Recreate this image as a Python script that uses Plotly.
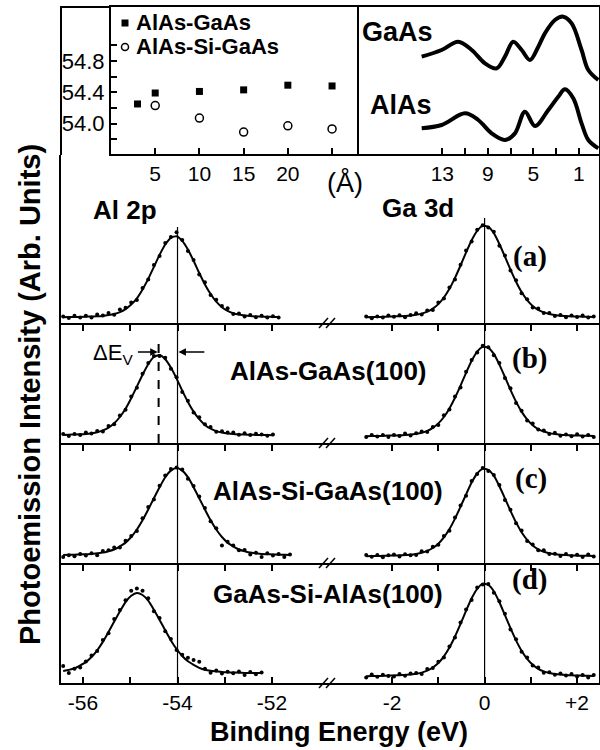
import plotly.graph_objects as go

# ---------------- data ----------------
# inset (top-left): Al 2p binding energy vs thickness
THICK_AG = [3, 5, 10, 15, 20, 25]
EDGE_AG = [54.25, 54.39, 54.41, 54.43, 54.49, 54.48]
THICK_ASG = [5, 10, 15, 20, 25]
EDGE_ASG = [54.23, 54.07, 53.89, 53.97, 53.93]

# inset (top-right): valence band spectra
GAAS_VB_E = [14.81, 13.06, 11.60, 10.42, 9.25, 8.23, 7.50, 6.77, 6.03, 5.30, 4.57, 3.99, 3.11, 2.38, 1.64, 0.77, 0.18, -0.70]
GAAS_VB_I = [8.0, 10.0, 12.5, 10.0, 6.0, 4.5, 8.0, 12.5, 10.0, 7.0, 11.0, 15.0, 19.0, 20.0, 18.0, 10.0, 4.0, 1.0]
ALAS_VB_E = [14.81, 13.06, 11.01, 9.84, 8.67, 7.50, 6.62, 5.74, 4.86, 3.69, 2.82, 2.23, 1.50, 0.77, 0.18, -0.70]
ALAS_VB_I = [7.5, 8.5, 12.0, 10.0, 6.0, 4.0, 6.0, 12.5, 8.2, 13.0, 17.0, 19.2, 16.5, 9.0, 4.0, 1.5]
VB_OFFSET_GAAS = 21.0

# core level energies
AL_E = [-56.42, -56.30, -56.18, -56.06, -55.94, -55.82, -55.70, -55.58, -55.46, -55.34,
        -55.22, -55.10, -54.98, -54.86, -54.74, -54.62, -54.50, -54.38, -54.26, -54.14,
        -54.02, -53.90, -53.78, -53.66, -53.54, -53.42, -53.30, -53.18, -53.06, -52.94,
        -52.82, -52.70, -52.58, -52.46, -52.34, -52.22, -52.10, -51.98, -51.86, -51.74, -51.62]
GA_E = [-2.56, -2.44, -2.32, -2.20, -2.08, -1.96, -1.84, -1.72, -1.60, -1.48, -1.36, -1.24,
        -1.12, -1.00, -0.88, -0.76, -0.64, -0.52, -0.40, -0.28, -0.16, -0.04, 0.08, 0.20,
        0.32, 0.44, 0.56, 0.68, 0.80, 0.92, 1.04, 1.16, 1.28, 1.40, 1.52, 1.64, 1.76, 1.88,
        2.00, 2.12, 2.24, 2.36]

AL_FIT_A = [5.8, 5.9, 6.1, 6.1, 6.3, 6.5, 6.7, 7.1, 7.9, 9.0, 10.9, 13.9, 18.4, 24.6, 33.5, 44.1, 56.1, 68.1, 78.5, 85.2,
            86.8, 82.1, 73.5, 62.2, 50.0, 38.6, 29.0, 21.4, 15.8, 12.1, 9.8, 8.4, 7.5, 6.9, 6.6, 6.4, 6.2, 6.1, 6.0]
AL_DOTS_A = [6.6, 4.9, 7.3, 5.5, 7.2, 5.4, 8.5, 7.5, 10.1, 8.2, 13.4, 15.2, 20.4, 23.1, 35.1, 43.4, 58.0, 66.9, 80.0, 86.1,
             90.8, 83.1, 72.1, 63.0, 48.4, 40.7, 28.1, 23.2, 16.9, 14.7, 9.1, 9.6, 6.6, 7.9, 5.8, 7.3, 5.6, 6.8, 5.5]
AL_FIT_B = [8.1, 8.3, 8.5, 8.7, 9.1, 9.8, 10.8, 12.6, 15.4, 19.8, 26.0, 34.2, 44.7, 56.5, 68.3, 78.8, 86.0, 87.9, 83.7,
            75.4, 64.4, 52.4, 41.1, 31.4, 23.8, 18.1, 14.3, 11.9, 10.4, 9.5, 8.9, 8.6, 8.4, 8.2, 8.1, 8.0, 7.9, 7.8]
AL_DOTS_B = [9.1, 7.1, 9.1, 7.9, 10.6, 9.4, 12.1, 11.6, 17.1, 18.7, 27.4, 33.3, 46.5, 55.2, 69.3, 80.0, 87.1, 87.1, 85.2,
             74.3, 65.7, 50.9, 42.3, 30.6, 25.7, 18.8, 15.9, 11.3, 11.8, 10.4, 10.4, 8.2, 9.7, 7.9, 9.2, 8.5, 7.3, 8.6]
AL_FIT_C = [8.1, 8.2, 8.3, 8.5, 8.8, 9.1, 9.7, 10.4, 11.8, 13.5, 16.7, 20.4, 26.0, 33.5, 42.7, 53.5, 64.8, 75.8, 85.8, 92.4,
            95.0, 92.4, 85.8, 75.8, 64.8, 53.5, 42.7, 33.5, 26.0, 20.4, 16.7, 13.5, 11.8, 10.4, 9.7, 9.1, 8.8, 8.5, 8.3, 8.2, 8.1]
AL_DOTS_C = [6.1, 7.7, 6.7, 8.9, 7.6, 9.8, 7.7, 12.0, 12.7, 15.4, 15.6, 22.2, 27.0, 32.1, 44.7, 55.9, 63.5, 77.2, 87.4, 93.9,
             95.6, 93.4, 84.3, 76.9, 66.4, 55.0, 41.8, 34.7, 17.5, 21.2, 17.6, 12.8, 13.0, 8.6, 10.3, 6.1, 9.7, 7.5, 9.1, 6.0, 8.5]
AL_FIT_D = [12.1, 13.1, 14.7, 17.6, 20.9, 26.0, 32.7, 41.1, 51.0, 61.4, 71.5, 80.9, 87.2, 90.0, 88.0, 82.3, 73.2, 63.1,
            52.7, 42.6, 34.0, 27.0, 21.7, 18.2, 15.2, 13.2, 12.2, 11.6, 11.0, 10.7, 10.5, 10.3, 10.1, 10.0, 10.0, 9.9]
AL_DOTS_D = [17.0, 10.1, 14.2, 15.4, 21.5, 27.5, 31.9, 42.9, 49.8, 63.9, 72.9, 82.8, 92.2, 94.5, 92.2, 84.8, 71.8, 64.9,
             51.7, 44.0, 33.1, 28.3, 25.2, 23.0, 21.2, 14.2, 10.2, 12.5, 9.5, 11.3, 9.7, 11.4, 7.9, 10.9, 8.8, 10.4]

GA_FIT_A = [5.8, 5.9, 6.0, 6.2, 6.4, 6.6, 6.8, 7.0, 7.4, 8.3, 9.4, 11.3, 14.4, 18.9, 25.5, 34.2, 45.1, 57.5, 70.6, 82.8, 92.2,
            97.1, 96.1, 89.9, 79.0, 66.3, 53.3, 41.2, 30.9, 22.9, 17.1, 13.1, 10.6, 9.0, 8.0, 7.3, 7.0, 6.7, 6.5, 6.3, 6.2, 6.0]
GA_DOTS_A = [6.6, 4.8, 6.5, 5.5, 7.6, 6.2, 7.7, 5.7, 8.0, 9.8, 8.6, 12.4, 13.0, 20.6, 24.6, 35.5, 43.5, 58.3, 72.5, 81.6, 93.2,
             97.8, 95.5, 91.3, 77.2, 67.5, 52.6, 42.8, 29.8, 23.8, 15.6, 14.4, 10.0, 10.0, 7.1, 8.0, 5.8, 7.5, 6.0, 7.4, 5.4, 6.6]
GA_FIT_B = [6.8, 6.9, 7.0, 7.2, 7.4, 7.5, 7.7, 8.0, 8.4, 9.2, 10.3, 12.2, 15.2, 19.6, 26.0, 34.6, 45.2, 57.4, 70.2, 82.2, 91.4,
            96.1, 95.2, 89.1, 78.4, 66.0, 53.2, 41.4, 31.4, 23.6, 17.8, 13.9, 11.5, 9.9, 8.9, 8.3, 7.9, 7.6, 7.5, 7.3, 7.2, 7.0]
GA_DOTS_B = [5.9, 8.1, 6.6, 8.0, 6.1, 8.0, 7.0, 9.4, 7.4, 9.8, 11.6, 11.0, 16.1, 18.0, 27.8, 33.6, 46.6, 55.5, 71.3, 83.1, 90.6,
             97.3, 95.7, 87.8, 80.0, 65.1, 54.7, 40.0, 32.2, 22.4, 19.4, 13.4, 12.6, 9.1, 10.2, 7.3, 8.5, 6.7, 8.7, 6.6, 8.1, 5.9]
GA_FIT_C = [6.8, 6.9, 7.0, 7.2, 7.3, 7.5, 7.7, 8.0, 8.3, 9.1, 10.2, 12.1, 15.0, 19.3, 25.6, 33.9, 44.4, 56.3, 68.7, 80.5, 89.5,
            94.1, 93.2, 87.3, 76.8, 64.7, 52.2, 40.6, 30.8, 23.2, 17.6, 13.7, 11.3, 9.8, 8.8, 8.2, 7.9, 7.6, 7.4, 7.2, 7.2, 7.0]
GA_DOTS_C = [8.1, 6.3, 7.9, 5.8, 7.7, 8.6, 6.5, 8.7, 7.8, 8.0, 11.8, 11.4, 16.2, 18.3, 27.1, 32.2, 45.4, 57.6, 67.2, 82.1, 88.9,
             95.0, 92.0, 88.1, 78.0, 63.1, 53.2, 39.8, 32.5, 21.9, 18.5, 12.7, 12.7, 9.1, 9.3, 6.9, 8.9, 7.0, 8.2, 6.0, 8.6, 6.6]
GA_FIT_D = [6.8, 6.9, 7.0, 7.2, 7.4, 7.6, 7.8, 8.1, 8.4, 9.3, 10.4, 12.4, 15.5, 20.0, 26.7, 35.5, 46.5, 59.1, 72.3, 84.7, 94.2,
            99.1, 98.1, 91.8, 80.8, 67.9, 54.8, 42.6, 32.2, 24.1, 18.2, 14.2, 11.6, 10.0, 9.0, 8.4, 8.0, 7.7, 7.5, 7.3, 7.2, 7.0]
GA_DOTS_D = [5.6, 8.4, 6.2, 8.2, 7.1, 6.6, 9.1, 7.2, 9.5, 10.1, 9.0, 14.0, 14.9, 21.2, 25.4, 36.4, 45.4, 60.6, 73.5, 83.0, 95.6,
             98.4, 99.1, 90.3, 81.7, 69.2, 53.6, 43.7, 31.3, 25.6, 17.6, 15.4, 10.2, 10.8, 8.3, 9.6, 7.5, 9.0, 6.5, 8.0, 5.6, 8.0]

AL_REF = -54.0        # reference Al 2p position (vertical line)
GA_REF = 0.0          # Ga 3d reference
AL_PEAK_B = -54.4     # Al 2p peak in (b)

AL_TICKS = [-56, -55, -54, -53, -52]
AL_TICKTEXT = ["-56", "", "-54", "", "-52"]
GA_TICKS = [-2, -1, 0, 1, 2]
GA_TICKTEXT = ["-2", "", "0", "", "+2"]

PANEL_LETTERS = ["(a)", "(b)", "(c)", "(d)"]
SAMPLE_LABELS = ["", "AlAs-GaAs(100)", "AlAs-Si-GaAs(100)", "GaAs-Si-AlAs(100)"]

# ---------------- layout helpers ----------------
W, H = 600, 750
def fx(p):
    return p / W
def fy(p):
    return 1 - p / H
def xn(i):
    return "x" if i == 1 else f"x{i}"
def yn(i):
    return "y" if i == 1 else f"y{i}"
def xk(i):
    return "xaxis" if i == 1 else f"xaxis{i}"
def yk(i):
    return "yaxis" if i == 1 else f"yaxis{i}"

SANS = "Liberation Sans, Arial, Helvetica, sans-serif"
SERIF = "Liberation Serif, Times New Roman, serif"
BLACK = "black"

fig = go.Figure()
layout = {}
shapes = []
annotations = []

X_L = [fx(61), fx(328)]
X_R = [fx(328), fx(599)]
AL_RANGE = [-56.466, -50.815]
GA_RANGE = [-3.386, 2.474]

PANEL_TOP = [155, 323, 443, 563]
PANEL_BOT = [323, 443, 563, 683]
REF_TOP_A = (96, 105)  # heights of reference lines in panel (a)

panels = [
    (AL_FIT_A, AL_DOTS_A, GA_FIT_A, GA_DOTS_A),
    (AL_FIT_B, AL_DOTS_B, GA_FIT_B, GA_DOTS_B),
    (AL_FIT_C, AL_DOTS_C, GA_FIT_C, GA_DOTS_C),
    (AL_FIT_D, AL_DOTS_D, GA_FIT_D, GA_DOTS_D),
]

for k, (alf, ald, gaf, gad) in enumerate(panels):
    li, ri = 2 * k + 1, 2 * k + 2
    top, bot = PANEL_TOP[k], PANEL_BOT[k]
    ymax = bot - top
    last = k == 3
    common_x = dict(showline=True, linewidth=2, linecolor=BLACK, showgrid=False, zeroline=False,
                    ticks="inside" if last else "outside", ticklen=6, tickwidth=1.5, tickcolor=BLACK,
                    showticklabels=last, tickfont=dict(family=SANS, size=21, color=BLACK))
    layout[xk(li)] = dict(domain=X_L, range=AL_RANGE, anchor=yn(li), tickvals=AL_TICKS,
                          ticktext=AL_TICKTEXT, **common_x)
    layout[xk(ri)] = dict(domain=X_R, range=GA_RANGE, anchor=yn(ri), tickvals=GA_TICKS,
                          ticktext=GA_TICKTEXT, **common_x)
    common_y = dict(domain=[fy(bot), fy(top)], range=[0, ymax], showline=True, linewidth=2,
                    linecolor=BLACK, showgrid=False, zeroline=False, ticks="", showticklabels=False)
    layout[yk(li)] = dict(anchor=xn(li), **common_y)
    layout[yk(ri)] = dict(anchor=xn(ri), side="right", **common_y)

    fig.add_trace(go.Scatter(x=AL_E[:len(alf)], y=alf, mode="lines",
                             line=dict(color=BLACK, width=2, shape="spline", smoothing=0.6),
                             xaxis=xn(li), yaxis=yn(li)))
    fig.add_trace(go.Scatter(x=AL_E[:len(ald)], y=ald, mode="markers",
                             marker=dict(color=BLACK, size=4), xaxis=xn(li), yaxis=yn(li)))
    fig.add_trace(go.Scatter(x=GA_E[:len(gaf)], y=gaf, mode="lines",
                             line=dict(color=BLACK, width=2, shape="spline", smoothing=0.6),
                             xaxis=xn(ri), yaxis=yn(ri)))
    fig.add_trace(go.Scatter(x=GA_E[:len(gad)], y=gad, mode="markers",
                             marker=dict(color=BLACK, size=4), xaxis=xn(ri), yaxis=yn(ri)))

    al_top = REF_TOP_A[0] if k == 0 else ymax
    ga_top = REF_TOP_A[1] if k == 0 else ymax
    shapes.append(dict(type="line", xref=xn(li), yref=yn(li), x0=AL_REF, x1=AL_REF, y0=0, y1=al_top,
                       line=dict(color=BLACK, width=1.2)))
    shapes.append(dict(type="line", xref=xn(ri), yref=yn(ri), x0=GA_REF, x1=GA_REF, y0=0, y1=ga_top,
                       line=dict(color=BLACK, width=1.2)))

    # axis break marks
    for dx in (0, 7):
        shapes.append(dict(type="line", xref="paper", yref="paper",
                           x0=fx(319 + dx), y0=fy(bot + 5), x1=fx(328 + dx), y1=fy(bot - 5),
                           line=dict(color=BLACK, width=1.5)))

    annotations.append(dict(text="<b>" + PANEL_LETTERS[k] + "</b>",
                            x=fx(549), y=fy(bot - 85), xref="paper", yref="paper",
                            showarrow=False, font=dict(family=SERIF, size=29, color=BLACK)))
    if SAMPLE_LABELS[k]:
        annotations.append(dict(text="<b>" + SAMPLE_LABELS[k] + "</b>", x=fx(328), y=fy(bot - 72),
                                xref="paper", yref="paper", showarrow=False,
                                font=dict(family=SANS, size=26, color=BLACK)))

# dashed line and Delta E_V in panel (b)
shapes.append(dict(type="line", xref="x3", yref="y3", x0=AL_PEAK_B, x1=AL_PEAK_B, y0=0, y1=100,
                   line=dict(color=BLACK, width=2, dash="dash")))
annotations.append(dict(x=AL_PEAK_B - 0.02, y=91, ax=-54.87, ay=91, xref="x3", yref="y3", axref="x3", ayref="y3",
                        text="", showarrow=True, arrowhead=2, arrowsize=1, arrowwidth=1.5, arrowcolor=BLACK))
annotations.append(dict(x=AL_REF + 0.02, y=91, ax=-53.40, ay=91, xref="x3", yref="y3", axref="x3", ayref="y3",
                        text="", showarrow=True, arrowhead=2, arrowsize=1, arrowwidth=1.5, arrowcolor=BLACK))
annotations.append(dict(x=-55.37, y=89, xref="x3", yref="y3", text="\u0394E<sub>V</sub>", showarrow=False,
                        font=dict(family=SANS, size=22, color=BLACK)))

# ---------------- insets ----------------
layout["xaxis9"] = dict(domain=[fx(111), fx(357)], range=[0, 27.82], anchor="y9", showline=True, linewidth=2,
                        linecolor=BLACK, mirror=True, showgrid=False, zeroline=False, ticks="inside", ticklen=6,
                        tickwidth=1.5, tickcolor=BLACK, tickvals=[5, 10, 15, 20, 25],
                        ticktext=["5", "10", "15", "20", ""], tickfont=dict(family=SANS, size=21, color=BLACK))
layout["yaxis9"] = dict(domain=[fy(154), fy(7)], range=[53.61, 55.49], anchor="x9", showline=True, linewidth=2,
                        linecolor=BLACK, mirror=True, showgrid=False, zeroline=False, ticks="inside", ticklen=6,
                        tickwidth=1.5, tickcolor=BLACK, tickvals=[53.8, 54.0, 54.2, 54.4, 54.6, 54.8, 55.0],
                        ticktext=["", "54.0", "", "54.4", "", "54.8", ""],
                        tickfont=dict(family=SANS, size=22, color=BLACK))
layout["xaxis10"] = dict(domain=[fx(357), fx(599)], range=[20.49, -0.76], anchor="y10", showline=True, linewidth=2,
                         linecolor=BLACK, mirror=True, showgrid=False, zeroline=False, ticks="inside", ticklen=6,
                         tickwidth=1.5, tickcolor=BLACK, tickvals=[13, 11, 9, 7, 5, 3, 1],
                         ticktext=["13", "", "9", "", "5", "", "1"], tickfont=dict(family=SANS, size=21, color=BLACK))
layout["yaxis10"] = dict(domain=[fy(154), fy(7)], range=[-0.2, 43.9], anchor="x10", side="right", showline=True,
                         linewidth=2, linecolor=BLACK, mirror=False, showgrid=False, zeroline=False, ticks="",
                         showticklabels=False)

fig.add_trace(go.Scatter(x=THICK_AG, y=EDGE_AG, mode="markers", xaxis="x9", yaxis="y9",
                         marker=dict(symbol="square", size=7, color=BLACK)))
fig.add_trace(go.Scatter(x=THICK_ASG, y=EDGE_ASG, mode="markers", xaxis="x9", yaxis="y9",
                         marker=dict(symbol="circle-open", size=8, color=BLACK, line=dict(width=1.5, color=BLACK))))
fig.add_trace(go.Scatter(x=GAAS_VB_E, y=[v + VB_OFFSET_GAAS for v in GAAS_VB_I], mode="lines",
                         xaxis="x10", yaxis="y10", line=dict(color=BLACK, width=4, shape="spline", smoothing=1.0)))
fig.add_trace(go.Scatter(x=ALAS_VB_E, y=ALAS_VB_I, mode="lines",
                         xaxis="x10", yaxis="y10", line=dict(color=BLACK, width=4, shape="spline", smoothing=1.0)))

# outer frame segment (left of inset)
shapes.append(dict(type="path", xref="paper", yref="paper",
                   path=f"M {fx(61)},{fy(155)} L {fx(61)},{fy(7)} L {fx(111)},{fy(7)}",
                   line=dict(color=BLACK, width=2)))

# legend symbols
shapes.append(dict(type="rect", xref="paper", yref="paper", x0=fx(121.5), x1=fx(128.5), y0=fy(26.5), y1=fy(19.5),
                   fillcolor=BLACK, line=dict(color=BLACK, width=0)))
shapes.append(dict(type="circle", xref="paper", yref="paper", x0=fx(121.5), x1=fx(128.5), y0=fy(50.5), y1=fy(43.5),
                   line=dict(color=BLACK, width=1.5)))

def text_ann(txt, x, y, size, family=SANS, xanchor="center", angle=0):
    annotations.append(dict(text=txt, x=fx(x), y=fy(y), xref="paper", yref="paper", showarrow=False,
                            xanchor=xanchor, yanchor="middle", textangle=angle,
                            font=dict(family=family, size=size, color=BLACK)))

text_ann("<b>AlAs-GaAs</b>", 134, 23, 22, xanchor="left")
text_ann("<b>AlAs-Si-GaAs</b>", 134, 46, 22, xanchor="left")
text_ann("(\u00c5)", 345, 182, 27)
text_ann("<b>GaAs</b>", 397, 32, 27)
text_ann("<b>AlAs</b>", 401, 105, 27)
text_ann("<b>Al 2p</b>", 125, 210, 26)
text_ann("<b>Ga 3d</b>", 418, 208, 26)
text_ann("<b>Binding Energy (eV)</b>", 339, 732, 27)
text_ann("<b>Photoemission Intensity (Arb. Units)</b>", 30, 395, 29, angle=-90)

layout.update(dict(width=W, height=H, margin=dict(l=0, r=0, t=0, b=0), showlegend=False,
                   plot_bgcolor="white", paper_bgcolor="white", shapes=shapes, annotations=annotations))
fig.update_layout(**layout)
fig.write_html("out.html", config={"displayModeBar": False},
               post_script="document.body.style.margin='0px';document.body.style.overflow='hidden';")
